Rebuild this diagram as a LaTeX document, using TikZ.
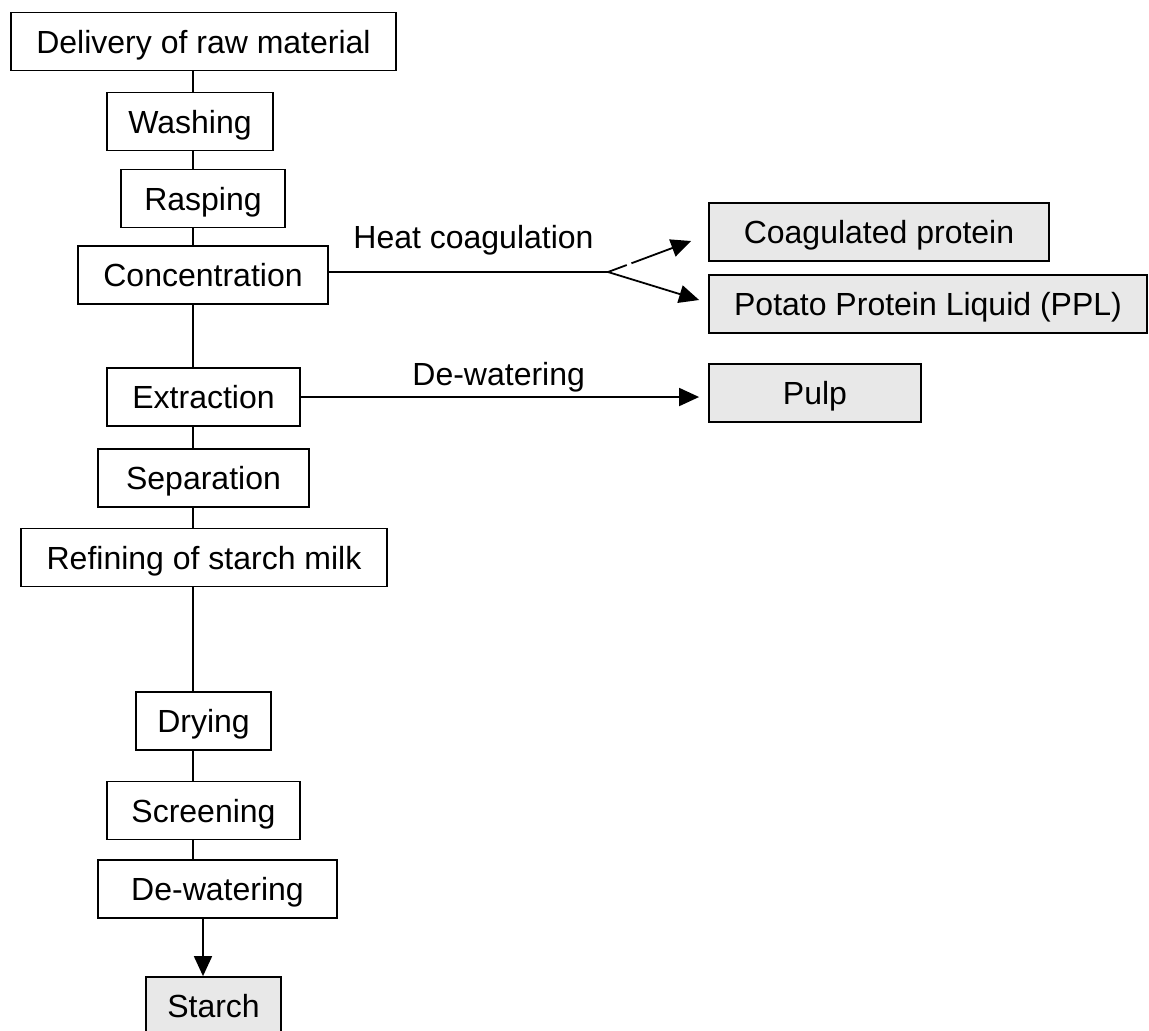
\documentclass[tikz,border=0pt]{standalone}
\usepackage{fontspec}
\setmainfont{Liberation Sans}
\usepackage{xcolor}
\usetikzlibrary{arrows.meta,calc,positioning}

\definecolor{prodgray}{RGB}{232,232,232}
\tikzset{
  stage/.style={draw, line width=0.9pt, minimum height=29pt, inner sep=0pt,
    text height=11.5pt, text depth=0pt, font=\fontsize{16}{19}\selectfont},
  product/.style={stage, fill=prodgray},
  steplabel/.style={inner sep=0pt, font=\fontsize{16}{19}\selectfont},
  link/.style={line width=0.9pt},
  flow/.style={line width=0.9pt, -{Triangle[length=10pt,width=9pt]}}
}

\begin{document}
\begin{tikzpicture}[x=0.5pt,y=-0.5pt]
\useasboundingbox (0,0) rectangle (1149,1030);
% main line
\node [stage, minimum width=192.5pt] (delivery) at (203.5,41.5) {Delivery of raw material};
\node [stage, minimum width=83pt] (washing) at (190,121.5) {Washing};
\node [stage, minimum width=82pt] (rasping) at (203,198.5) {Rasping};
\node [stage, minimum width=125pt] (concentration) at (203,275) {Concentration};
\node [stage, minimum width=96.5pt] (extraction) at (203.5,397) {Extraction};
\node [stage, minimum width=105.5pt] (separation) at (203.5,478) {Separation};
\node [stage, minimum width=183pt] (refining) at (204,557.5) {Refining of starch milk};
\node [stage, minimum width=67.5pt] (drying) at (203.5,721) {Drying};
\node [stage, minimum width=96.5pt] (screening) at (203.5,810.5) {Screening};
\node [stage, minimum width=119.5pt] (dewatering) at (217.5,889) {De-watering};
\node [product, minimum width=67.5pt] (starch) at (213.5,1006) {Starch};
% side products
\node [product, minimum width=170pt] (coagulated) at (879,232) {Coagulated protein};
\node [product, minimum width=219pt] (ppl) at (928,304) {Potato Protein Liquid (PPL)};
\node [product, minimum width=106pt] (pulp) at (815,393) {Pulp};
\node [steplabel, anchor=base west] (heatlabel) at (353,248) {Heat coagulation};
\node [steplabel, anchor=base west] (dewaterlabel) at (412,385) {De-watering};

\coordinate (spine) at (193,0);
\coordinate (drop) at (203,0);
\coordinate (fork) at (608,272);
\foreach \a/\b in {delivery/washing,washing/rasping,rasping/concentration,
  concentration/extraction,extraction/separation,separation/refining,
  refining/drying,drying/screening,screening/dewatering}
  \draw [link] (\a.south -| spine) -- (\b.north -| spine);
\draw [flow] (dewatering.south -| drop) -- (starch.north -| drop);

\draw [link] (concentration.east |- fork) -- (fork);
\draw [flow, dash pattern=on 10pt off 2.5pt on 200pt] (fork) -- ($(coagulated.west)+(-17,9)$);
\draw [flow] (fork) -- ($(ppl.west)+(-9,-4)$);
\draw [flow, shorten >=4.5pt] (extraction.east) -- (extraction.east -| pulp.west);
\end{tikzpicture}
\end{document}
